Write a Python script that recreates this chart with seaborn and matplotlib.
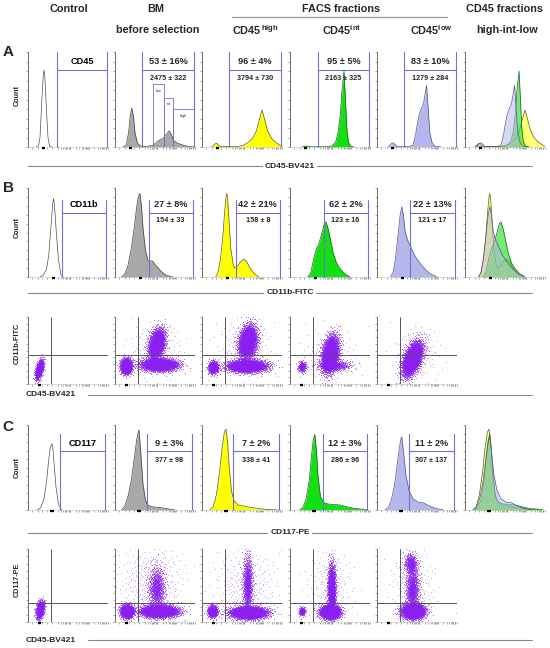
import numpy as np
import pandas as pd
import matplotlib
matplotlib.use("Agg")
import matplotlib.pyplot as plt
import seaborn as sns

sns.set_theme(style="white")
plt.rcParams["font.family"] = ["Liberation Sans", "DejaVu Sans"]
plt.rcParams["mathtext.fontset"] = "custom"
plt.rcParams["mathtext.rm"] = "Liberation Sans"
plt.rcParams["mathtext.bf"] = "Liberation Sans:bold"

# ------------------------------------------------------------------ data
markers = ["CD45", "CD11b", "CD117"]
A_pct = ["53 ± 16%", "96 ± 4%", "95 ± 5%", "83 ± 10%"]
A_mfi = ["2475 ± 322", "3794 ± 730", "2163 ± 325", "1279 ± 284"]
B_pct = ["27 ± 8%", "42 ± 21%", "62 ± 2%", "22 ± 13%"]
B_mfi = ["154 ± 33", "158 ± 8", "123 ± 16", "121 ± 17"]
C_pct = ["9 ± 3%", "7 ± 2%", "12 ± 3%", "11 ± 2%"]
C_mfi = ["377 ± 98", "338 ± 41", "286 ± 96", "307 ± 137"]
bm_subgates = ["low", "int", "high"]

# histogram curves (x: fraction of log axis, y: fraction of panel height)
A_ctrl_x = [0.10, 0.13, 0.15, 0.17, 0.19, 0.20, 0.21, 0.23, 0.25, 0.27, 0.30]
A_ctrl_y = [0, 0.01, 0.10, 0.45, 0.75, 0.81, 0.74, 0.40, 0.10, 0.01, 0]
A_bm_x = [0.10, 0.14, 0.17, 0.19, 0.21, 0.23, 0.25, 0.28, 0.32, 0.40, 0.48, 0.55, 0.60, 0.64, 0.675, 0.70, 0.73, 0.78, 0.85, 0.92, 1.0]
A_bm_y = [0, 0.02, 0.15, 0.33, 0.41, 0.33, 0.15, 0.04, 0.01, 0.005, 0.02, 0.07, 0.09, 0.13, 0.17, 0.14, 0.07, 0.04, 0.02, 0.005, 0]
A_high_x = [0.12, 0.16, 0.18, 0.20, 0.23, 0.30, 0.45, 0.52, 0.58, 0.63, 0.68, 0.72, 0.75, 0.78, 0.82, 0.87, 0.92, 0.97, 1.0]
A_high_y = [0, 0.03, 0.04, 0.025, 0.005, 0.005, 0.005, 0.02, 0.05, 0.09, 0.17, 0.30, 0.39, 0.30, 0.17, 0.09, 0.05, 0.02, 0.01]
A_int_x = [0.15, 0.20, 0.23, 0.27, 0.45, 0.52, 0.57, 0.60, 0.63, 0.65, 0.675, 0.69, 0.71, 0.73, 0.76, 0.80]
A_int_y = [0, 0.012, 0.005, 0.002, 0.003, 0.01, 0.05, 0.15, 0.35, 0.60, 0.80, 0.55, 0.20, 0.05, 0.01, 0]
A_low_x = [0.14, 0.18, 0.20, 0.22, 0.25, 0.40, 0.45, 0.48, 0.52, 0.55, 0.58, 0.60, 0.62, 0.64, 0.66, 0.69, 0.72, 0.80]
A_low_y = [0, 0.035, 0.045, 0.03, 0.005, 0.003, 0.02, 0.12, 0.32, 0.40, 0.45, 0.55, 0.65, 0.40, 0.15, 0.04, 0.01, 0]

B_ctrl_x = [0.15, 0.19, 0.23, 0.26, 0.29, 0.31, 0.32, 0.33, 0.35, 0.38, 0.41, 0.44]
B_ctrl_y = [0, 0.02, 0.08, 0.25, 0.60, 0.84, 0.88, 0.82, 0.55, 0.20, 0.03, 0]
B_bm_x = [0.08, 0.12, 0.16, 0.20, 0.24, 0.27, 0.29, 0.31, 0.33, 0.35, 0.38, 0.41, 0.44, 0.47, 0.50, 0.54, 0.58, 0.64, 0.72]
B_bm_y = [0, 0.03, 0.12, 0.30, 0.55, 0.78, 0.90, 0.94, 0.80, 0.55, 0.30, 0.19, 0.18, 0.18, 0.14, 0.10, 0.06, 0.02, 0]
B_high_x = [0.17, 0.20, 0.23, 0.26, 0.28, 0.30, 0.31, 0.32, 0.34, 0.36, 0.39, 0.41, 0.44, 0.48, 0.52, 0.56, 0.60, 0.65, 0.71]
B_high_y = [0, 0.05, 0.20, 0.45, 0.70, 0.90, 0.94, 0.88, 0.60, 0.32, 0.14, 0.10, 0.12, 0.17, 0.20, 0.17, 0.10, 0.04, 0]
B_int_x = [0.22, 0.26, 0.30, 0.33, 0.36, 0.40, 0.43, 0.45, 0.48, 0.51, 0.54, 0.58, 0.62, 0.68, 0.75]
B_int_y = [0, 0.05, 0.22, 0.32, 0.37, 0.50, 0.60, 0.62, 0.53, 0.40, 0.27, 0.16, 0.10, 0.04, 0]
B_low_x = [0.17, 0.20, 0.23, 0.26, 0.29, 0.31, 0.33, 0.35, 0.38, 0.42, 0.46, 0.50, 0.55, 0.60, 0.66, 0.75]
B_low_y = [0, 0.05, 0.20, 0.45, 0.70, 0.79, 0.70, 0.52, 0.42, 0.34, 0.26, 0.20, 0.14, 0.09, 0.04, 0]

C_ctrl_x = [0.12, 0.16, 0.20, 0.23, 0.26, 0.28, 0.30, 0.31, 0.33, 0.35, 0.38, 0.42]
C_ctrl_y = [0, 0.03, 0.13, 0.32, 0.60, 0.74, 0.78, 0.74, 0.50, 0.27, 0.07, 0]
C_bm_x = [0.08, 0.12, 0.16, 0.20, 0.24, 0.27, 0.29, 0.30, 0.32, 0.35, 0.38, 0.41, 0.45, 0.55, 0.65, 0.75]
C_bm_y = [0, 0.04, 0.15, 0.33, 0.60, 0.82, 0.92, 0.94, 0.70, 0.30, 0.12, 0.06, 0.04, 0.03, 0.015, 0]
C_high_x = [0.10, 0.14, 0.18, 0.22, 0.25, 0.28, 0.30, 0.32, 0.34, 0.37, 0.40, 0.45, 0.55, 0.65, 0.75, 0.85, 0.95]
C_high_y = [0, 0.04, 0.18, 0.45, 0.72, 0.92, 0.95, 0.80, 0.50, 0.22, 0.11, 0.06, 0.04, 0.025, 0.012, 0.005, 0]
C_int_x = [0.12, 0.16, 0.20, 0.24, 0.27, 0.29, 0.31, 0.33, 0.35, 0.38, 0.42, 0.48, 0.55, 0.62, 0.70, 0.80, 0.90, 0.97]
C_int_y = [0, 0.03, 0.12, 0.35, 0.65, 0.82, 0.89, 0.70, 0.40, 0.16, 0.09, 0.07, 0.065, 0.06, 0.04, 0.02, 0.01, 0.005]
C_low_x = [0.10, 0.14, 0.18, 0.22, 0.25, 0.28, 0.30, 0.31, 0.33, 0.36, 0.40, 0.45, 0.52, 0.58, 0.65, 0.73, 0.83]
C_low_y = [0, 0.03, 0.12, 0.30, 0.52, 0.74, 0.84, 0.86, 0.70, 0.42, 0.23, 0.13, 0.09, 0.085, 0.05, 0.02, 0]

# dot-plot populations: (centre x, centre y, spread x, spread y, tilt, events)
dotB_ctrl = [(0.14, 0.22, 0.025, 0.07, 0.5, 900)]
dotB_bm = [(0.14, 0.27, 0.035, 0.055, 0.0, 1300), (0.55, 0.29, 0.11, 0.045, 0.0, 2600),
           (0.52, 0.60, 0.05, 0.11, 0.3, 2200), (0.50, 0.50, 0.18, 0.20, 0.0, 160)]
dotB_high = [(0.14, 0.25, 0.03, 0.045, 0.0, 700), (0.56, 0.27, 0.12, 0.045, 0.0, 2600),
             (0.57, 0.63, 0.055, 0.12, 0.2, 2800), (0.50, 0.50, 0.18, 0.22, 0.0, 160)]
dotB_int = [(0.15, 0.26, 0.025, 0.04, 0.0, 250), (0.50, 0.45, 0.05, 0.13, 0.3, 3000),
            (0.55, 0.28, 0.10, 0.04, 0.0, 500), (0.50, 0.45, 0.18, 0.20, 0.0, 130)]
dotB_low = [(0.44, 0.38, 0.06, 0.12, 0.5, 3400), (0.50, 0.45, 0.15, 0.20, 0.0, 130)]

dotC_ctrl = [(0.15, 0.17, 0.025, 0.06, 0.3, 800)]
dotC_bm = [(0.15, 0.15, 0.04, 0.045, 0.0, 1300), (0.55, 0.15, 0.11, 0.04, 0.0, 3000),
           (0.52, 0.45, 0.05, 0.15, 0.0, 800), (0.45, 0.55, 0.20, 0.25, 0.0, 380)]
dotC_high = [(0.13, 0.15, 0.03, 0.04, 0.0, 700), (0.58, 0.13, 0.11, 0.04, 0.0, 3000),
             (0.57, 0.50, 0.03, 0.20, 0.0, 900), (0.55, 0.50, 0.20, 0.25, 0.0, 300)]
dotC_int = [(0.15, 0.15, 0.02, 0.03, 0.0, 200), (0.50, 0.14, 0.06, 0.045, 0.0, 2200),
            (0.52, 0.45, 0.025, 0.17, 0.0, 1500), (0.50, 0.50, 0.15, 0.25, 0.0, 180)]
dotC_low = [(0.45, 0.15, 0.07, 0.05, 0.0, 2500), (0.44, 0.45, 0.04, 0.16, 0.0, 900),
            (0.42, 0.80, 0.04, 0.07, 0.0, 400), (0.45, 0.50, 0.15, 0.25, 0.0, 180)]

# ------------------------------------------------------------------ style / layout
W, H = 550, 648
fig = plt.figure(figsize=(5.5, 6.48), dpi=100)

col_left = [28, 115, 202, 290, 377, 465]
PW = 80
GATE = "#6f6fd8"
FILLS = ["white", "#a8a8a8", "#ffff00", "#12e012", "#b4b6ec"]
EDGES = ["#505050", "#404040", "#5a5a20", "#1f5f1f", "#55558a"]
DOT = "#8a1ff0"
xt_log = [0.05, 0.12, 0.18, 0.24, 0.30, 0.37, 0.41, 0.44, 0.46, 0.48, 0.49, 0.51, 0.52,
          0.53, 0.60, 0.64, 0.67, 0.69, 0.71, 0.72, 0.74, 0.75, 0.76, 0.83, 0.87, 0.90,
          0.92, 0.94, 0.95, 0.97, 0.98, 1.0]


def add_ax(left, top, bottom, width=PW):
    return fig.add_axes([left / W, 1 - bottom / H, width / W, (bottom - top) / H])


def style_ax(ax, zero_x):
    ax.set_xlim(0, 1)
    ax.set_ylim(0, 1)
    ax.set_xlabel("")
    ax.set_ylabel("")
    for s in ["top", "right"]:
        ax.spines[s].set_visible(False)
    ax.spines["left"].set_color("#555555")
    ax.spines["left"].set_linewidth(0.6)
    ax.spines["bottom"].set_color("#c0c0c0")
    ax.spines["bottom"].set_linewidth(0.4)
    ax.set_yticks(np.linspace(0, 1, 11))
    ax.set_xticks(xt_log)
    ax.tick_params(axis="both", which="both", length=1.5, width=0.4, color="#666666",
                   labelleft=False, labelbottom=False, left=True, bottom=True, pad=0)
    ax.plot([zero_x - 0.02, zero_x + 0.02], [-0.012, -0.012], color="black", lw=1.6,
            clip_on=False, zorder=6, solid_capstyle="butt")
    ax.grid(False)
    ax.set_facecolor("white")


def hist(ax, x, y, fc, ec, alpha=1.0, z=2, scale=1.0):
    df = pd.DataFrame({"x": x, "y": np.asarray(y) * scale})
    ax.fill_between(df["x"], df["y"], 0, color=fc, alpha=alpha, lw=0, zorder=z)
    sns.lineplot(data=df, x="x", y="y", ax=ax, color=ec, lw=0.5, zorder=z + 0.1,
                 legend=False, sort=False, estimator=None)


def gate(ax, gl, gr, gt, gh, lw=0.8):
    kw = dict(color=GATE, lw=lw, zorder=5, clip_on=False)
    ax.plot([gl, gl], [0, gt], **kw)
    ax.plot([gr, gr], [0, gt], **kw)
    ax.plot([gl, gr], [gh, gh], **kw)


def halton(n, base, skip):
    idx = np.arange(skip, skip + n)
    r = np.zeros(n)
    f = 1.0
    while np.any(idx > 0):
        f /= base
        r += f * (idx % base)
        idx = idx // base
    return r


def norm_ppf(p):
    # Acklam's rational approximation of the inverse normal CDF
    a = [-3.969683028665376e+01, 2.209460984245205e+02, -2.759285104469687e+02,
         1.383577518672690e+02, -3.066479806614716e+01, 2.506628277459239e+00]
    b = [-5.447609879822406e+01, 1.615858368580409e+02, -1.556989798598866e+02,
         6.680131188771972e+01, -1.328068155288572e+01]
    c = [-7.784894002430293e-03, -3.223964580411365e-01, -2.400758277161838e+00,
         -2.549732539343734e+00, 4.374664141464968e+00, 2.938163982698783e+00]
    d = [7.784695709041462e-03, 3.224671290700398e-01, 2.445134137142996e+00,
         3.754408661907416e+00]
    p = np.clip(p, 1e-6, 1 - 1e-6)
    out = np.empty_like(p)
    lo = p < 0.02425
    hi = p > 1 - 0.02425
    mid = ~(lo | hi)
    q = np.sqrt(-2 * np.log(p[lo]))
    out[lo] = (((((c[0]*q+c[1])*q+c[2])*q+c[3])*q+c[4])*q+c[5]) / ((((d[0]*q+d[1])*q+d[2])*q+d[3])*q+1)
    q = np.sqrt(-2 * np.log(1 - p[hi]))
    out[hi] = -(((((c[0]*q+c[1])*q+c[2])*q+c[3])*q+c[4])*q+c[5]) / ((((d[0]*q+d[1])*q+d[2])*q+d[3])*q+1)
    q = p[mid] - 0.5
    r = q * q
    out[mid] = (((((a[0]*r+a[1])*r+a[2])*r+a[3])*r+a[4])*r+a[5])*q / (((((b[0]*r+b[1])*r+b[2])*r+b[3])*r+b[4])*r+1)
    return out


def population(spec, k):
    cx, cy, sx, sy, rho, n = spec
    z1 = norm_ppf(halton(n, 2, 101 + 389 * k))
    z2 = norm_ppf(halton(n, 3, 211 + 613 * k))
    return cx + sx * z1, cy + sy * (rho * z1 + np.sqrt(1 - rho ** 2) * z2)


rows = [
    dict(top=52, bot=147, curves=[(A_ctrl_x, A_ctrl_y), (A_bm_x, A_bm_y), (A_high_x, A_high_y),
                                  (A_int_x, A_int_y), (A_low_x, A_low_y)],
         pct=A_pct, mfi=A_mfi, gl=[0.36, 0.34, 0.34, 0.35, 0.34], gr=0.99, gt=1.0, gh=0.81,
         py=0.905, my=0.725, cy=0.90, zero=0.19),
    dict(top=188, bot=277, curves=[(B_ctrl_x, B_ctrl_y), (B_bm_x, B_bm_y), (B_high_x, B_high_y),
                                   (B_int_x, B_int_y), (B_low_x, B_low_y)],
         pct=B_pct, mfi=B_mfi, gl=[0.42, 0.42, 0.425, 0.42, 0.41], gr=0.97, gt=0.865, gh=0.72,
         py=0.82, my=0.63, cy=0.82, zero=0.32),
    dict(top=425, bot=510, curves=[(C_ctrl_x, C_ctrl_y), (C_bm_x, C_bm_y), (C_high_x, C_high_y),
                                   (C_int_x, C_int_y), (C_low_x, C_low_y)],
         pct=C_pct, mfi=C_mfi, gl=[0.40, 0.40, 0.39, 0.41, 0.40], gr=0.96, gt=0.89, gh=0.69,
         py=0.78, my=0.585, cy=0.78, zero=0.30),
]

for r, row in enumerate(rows):
    for c in range(6):
        ax = add_ax(col_left[c], row["top"], row["bot"])
        if c < 5:
            x, y = row["curves"][c]
            hist(ax, x, y, FILLS[c], EDGES[c])
            gl, gr = row["gl"][c], row["gr"]
            gate(ax, gl, gr, row["gt"], row["gh"])
            xm = (gl + gr) / 2
            if c == 0:
                ax.text(xm, row["cy"], markers[r], ha="center", va="center", fontsize=6.6,
                        fontweight="bold", color="black", zorder=7)
            else:
                ax.text(xm, row["py"], row["pct"][c - 1], ha="center", va="center",
                        fontsize=6.6, fontweight="bold", zorder=7)
                ax.text(xm, row["my"], row["mfi"][c - 1], ha="center", va="center",
                        fontsize=5.2, fontweight="bold", zorder=7)
            if r == 0 and c == 1:
                sub_l = [0.47, 0.615, 0.72]
                sub_r = [0.615, 0.72, 1.0]
                sub_t = [0.66, 0.52, 0.40]
                for nm, a, b, t in zip(bm_subgates, sub_l, sub_r, sub_t):
                    ax.plot([a, a, b, b], [0, t, t, 0], color=GATE, lw=0.6, zorder=5)
                    ax.text((a + b) / 2, t - 0.07, nm, ha="center", va="center",
                            fontsize=2.8, zorder=7)
        else:
            for k, a in zip([4, 2, 3], [0.55, 0.55, 0.6]):
                x, y = row["curves"][k]
                hist(ax, x, y, FILLS[k], EDGES[k], alpha=a, z=2 + k * 0.3)
        style_ax(ax, row["zero"])

# dot plots
dot_rows = [
    dict(top=317, bot=384, pops=[dotB_ctrl, dotB_bm, dotB_high, dotB_int, dotB_low], hl=0.435),
    dict(top=549, bot=622, pops=[dotC_ctrl, dotC_bm, dotC_high, dotC_int, dotC_low], hl=0.26),
]
for dr in dot_rows:
    for c in range(5):
        ax = add_ax(col_left[c], dr["top"], dr["bot"])
        dense_x, dense_y, sparse_x, sparse_y = [], [], [], []
        for k, spec in enumerate(dr["pops"][c]):
            px, py = population(spec, k + 7 * c)
            if spec[2] > 0.14:
                sparse_x.append(px)
                sparse_y.append(py)
            else:
                dense_x.append(px)
                dense_y.append(py)
        if sparse_x:
            dfs = pd.DataFrame({"x": np.concatenate(sparse_x), "y": np.concatenate(sparse_y)})
            sns.scatterplot(data=dfs, x="x", y="y", ax=ax, s=0.6, color=DOT, linewidth=0,
                            alpha=0.45, legend=False, rasterized=True)
        dfd = pd.DataFrame({"x": np.concatenate(dense_x), "y": np.concatenate(dense_y)})
        sns.scatterplot(data=dfd, x="x", y="y", ax=ax, s=0.6, color=DOT, linewidth=0,
                        alpha=0.75, legend=False, rasterized=True)
        ax.axvline(0.29, color="#555555", lw=0.7, zorder=4)
        ax.axhline(dr["hl"], color="#555555", lw=0.7, zorder=4)
        style_ax(ax, 0.14)

# ------------------------------------------------------------------ figure texts
def ftext(x, y, s, **kw):
    fig.text(x / W, 1 - y / H, s, **kw)


hdr = dict(fontsize=7.8, fontweight="bold", ha="center", va="center")
ftext(69, 8.5, "Control", **hdr)
ftext(156, 8.5, "BM", **hdr)
ftext(158, 30, "before selection", **hdr)
ftext(341, 8.5, "FACS fractions", **hdr)
ftext(504, 8.5, "CD45 fractions", **hdr)
ftext(507, 30, "high-int-low", **hdr)
ftext(255, 30, r"$\mathbf{CD45}^{\,\mathbf{high}}$", **hdr)
ftext(342, 30, r"$\mathbf{CD45}^{\mathbf{int}}$", **hdr)
ftext(431, 30, r"$\mathbf{CD45}^{\mathbf{low}}$", **hdr)
fig.add_artist(plt.Line2D([232 / W, 447 / W], [1 - 16.5 / H, 1 - 16.5 / H], color="#999999", lw=0.9))

for lab, y in zip(["A", "B", "C"], [52, 188, 427]):
    ftext(8, y, lab, fontsize=11, fontweight="bold", ha="center", va="center")
for y in [95, 227, 468]:
    ftext(17, y, "Count", fontsize=5.2, fontweight="bold", ha="center", va="center", rotation=90)
ftext(17, 343, "CD11b-FITC", fontsize=5.2, fontweight="bold", ha="center", va="center", rotation=90)
ftext(17, 580, "CD117-PE", fontsize=5.2, fontweight="bold", ha="center", va="center", rotation=90)

box = dict(facecolor="white", edgecolor="none", pad=1.5)
for lab, y in zip(["CD45-BV421", "CD11b-FITC", "CD117-PE"], [166, 293, 533]):
    fig.add_artist(plt.Line2D([28 / W, 532 / W], [1 - y / H, 1 - y / H], color="#888888", lw=0.8))
    ftext(290, y, lab, fontsize=6, fontweight="bold", ha="center", va="center", bbox=box, zorder=5)
for y in [395, 640]:
    fig.add_artist(plt.Line2D([88 / W, 532 / W], [1 - y / H, 1 - y / H], color="#888888", lw=0.8))
    ftext(26, y, "CD45-BV421", fontsize=6, fontweight="bold", ha="left", va="center")

fig.savefig("out.png", dpi=100, facecolor="white")
